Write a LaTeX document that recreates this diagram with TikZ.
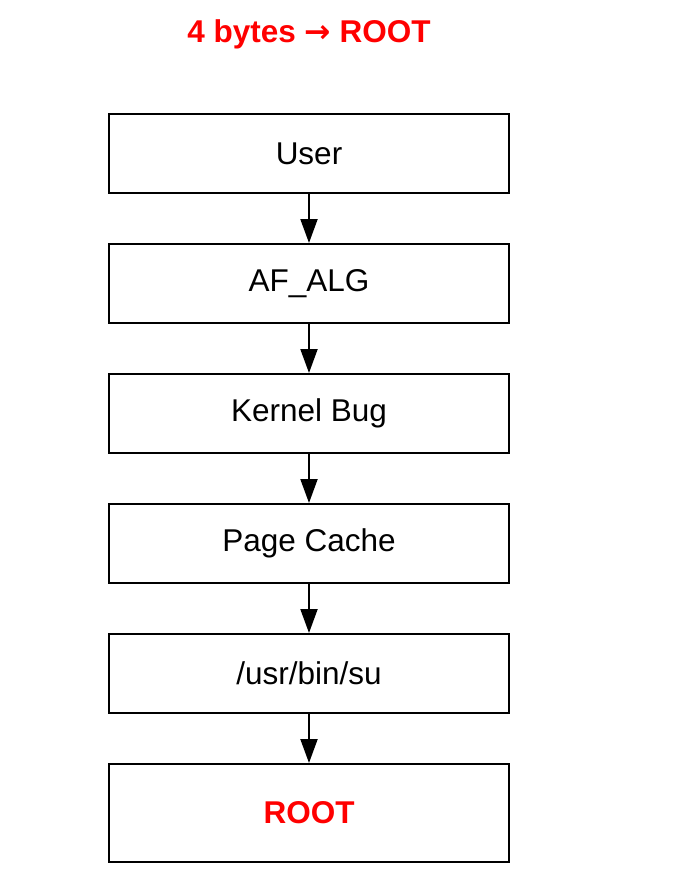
\documentclass[tikz,border=0pt]{standalone}
\usepackage{fontspec}
\setmainfont{Liberation Sans}
\newfontfamily\symfont{DejaVu Sans}
\usetikzlibrary{arrows.meta}
\begin{document}
\begin{tikzpicture}[x=1pt,y=-1pt,
  box/.style={draw,line width=2pt,minimum width=400pt,minimum height=79pt,inner sep=0pt,font=\fontsize{31.5}{36}\selectfont},
  conn/.style={line width=2pt,-{Triangle[length=24pt,width=17pt]}}]
\useasboundingbox (0,0) rectangle (680,888);
\node[text=red,font=\bfseries\fontsize{31.5}{36}\selectfont] (title) at (309,34) {4 bytes {\symfont\bfseries →} ROOT};
\node[box] (b1) at (309,153.5) {User};
\node[box] (b2) at (309,283.5) {AF\_ALG};
\node[box] (b3) at (309,413.5) {Kernel Bug};
\node[box] (b4) at (309,543.5) {Page Cache};
\node[box] (b5) at (309,673.5) {/usr/bin/su};
\node[box,minimum height=98pt,text=red,font=\bfseries\fontsize{31.5}{36}\selectfont] (b6) at (309,813) {ROOT};
\draw[conn] (b1) -- (b2);
\draw[conn] (b2) -- (b3);
\draw[conn] (b3) -- (b4);
\draw[conn] (b4) -- (b5);
\draw[conn] (b5) -- (b6);
\end{tikzpicture}
\end{document}
